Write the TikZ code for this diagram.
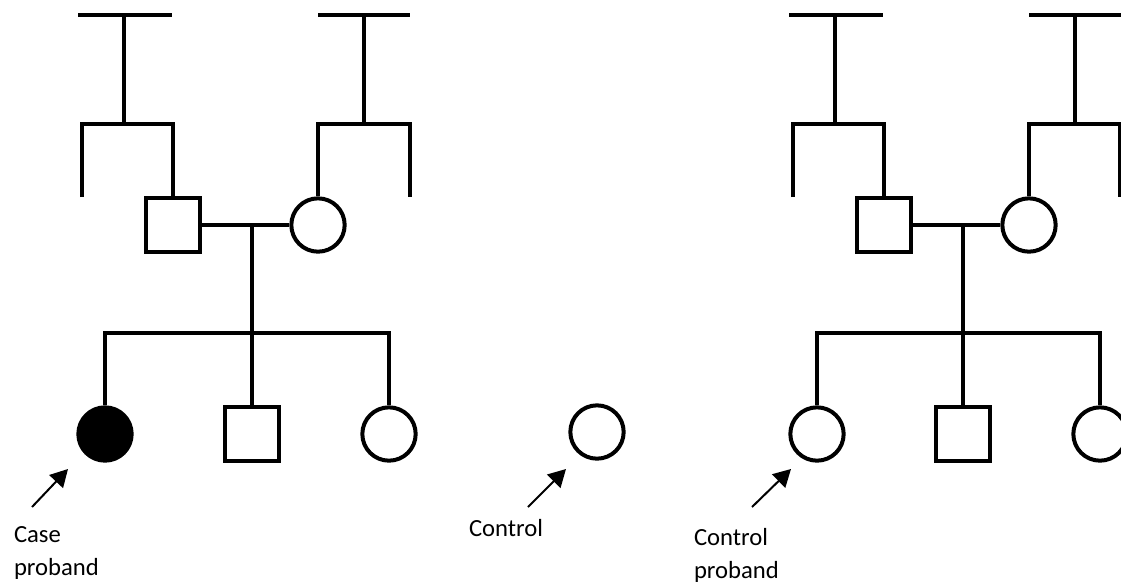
\documentclass[tikz,border=0pt]{standalone}
\usepackage{fontspec}
\setmainfont{Carlito}
\usetikzlibrary{arrows.meta}
\tikzset{every picture/.style={line width=3pt}}
\tikzset{
  male/.style={draw, rectangle, inner sep=0pt, minimum size=40pt},
  female/.style={draw, circle, inner sep=0pt, minimum size=40pt},
  affected/.style={fill=black},
  pointer/.style={line width=1.5pt, -{Triangle[length=13pt,width=14pt]}},
  caption/.style={anchor=north west, inner sep=0pt, align=left, font=\fontsize{18.5}{24.75}\selectfont},
}

\begin{document}
\begin{tikzpicture}[x=0.75pt,y=0.75pt,yscale=-1,xscale=1]
\useasboundingbox (0,0) rectangle (1121,583);
\clip (0,0) rectangle (1121,583);

%Left family: parents and children
\node [male] (lfa) at (173,225) {};
\node [female] (lmo) at (318,225) {};
\node [female, affected] (case) at (105,434) {};
\node [male] (lbro) at (252,434) {};
\node [female] (lsis) at (389,434) {};
%Left family: grandparents of the father
\draw (78,15) -- (172,15) (124,15) -- (124,124);
\draw (82,197) -- (82,124) -- (173,124) -- (lfa.north);
%Left family: grandparents of the mother
\draw (318,15) -- (410,15) (364,15) -- (364,124);
\draw (lmo.north) -- (318,124) -- (410,124) -- (410,197);
%Left family: marriage and sibship
\coordinate (lmar) at (252,225);
\draw (lfa.east) -- (lmo.west);
\draw (lmar) -- (lbro.north);
\draw (case.north) -- (105,333) -- (389,333) -- (lsis.north);

%Control
\node [female] (ctrl) at (597,432) {};

%Right family: parents and children
\node [male] (rfa) at (884,225) {};
\node [female] (rmo) at (1029,225) {};
\node [female] (cproband) at (817,434) {};
\node [male] (rbro) at (963,434) {};
\node [female] (rsis) at (1100,434) {};
%Right family: grandparents of the father
\draw (789,15) -- (883,15) (835,15) -- (835,124);
\draw (793,197) -- (793,124) -- (884,124) -- (rfa.north);
%Right family: grandparents of the mother
\draw (1029,15) -- (1125,15) (1075,15) -- (1075,124);
\draw (rmo.north) -- (1029,124) -- (1120,124) -- (1120,197);
%Right family: marriage and sibship
\coordinate (rmar) at (963,225);
\draw (rfa.east) -- (rmo.west);
\draw (rmar) -- (rbro.north);
\draw (cproband.north) -- (817,333) -- (1100,333) -- (rsis.north);

%Pointers
\coordinate (casetail) at (32,507);
\coordinate (casetip) at (68,469);
\coordinate (ctrltail) at (528,507);
\coordinate (ctrltip) at (566,469);
\coordinate (cprobtail) at (752,507);
\coordinate (cprobtip) at (791,469);
\draw [pointer] (casetail) -- (casetip);
\draw [pointer] (ctrltail) -- (ctrltip);
\draw [pointer] (cprobtail) -- (cprobtip);

% Text Node
\node [caption] (caselbl) at (12,524) {Case\\proband};
% Text Node
\node [caption] (ctrllbl) at (467,517) {Control};
% Text Node
\node [caption] (cproblbl) at (692,526) {Control\\proband};

\end{tikzpicture}
\end{document}
